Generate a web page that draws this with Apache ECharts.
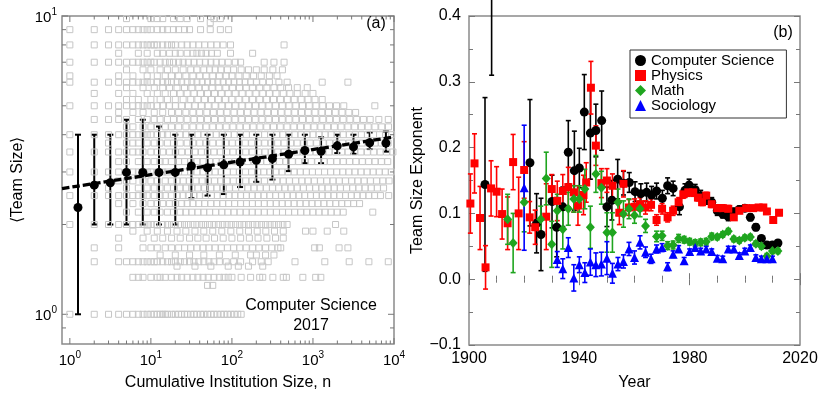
<!DOCTYPE html>
<html><head><meta charset="utf-8">
<script src="https://cdn.jsdelivr.net/npm/echarts@6/dist/echarts.min.js"></script>
<style>html,body{margin:0;padding:0;background:#fff}#c{width:821px;height:396px}</style>
</head><body><div id="c"></div>
<script>
// ---------- Panel (a) data ----------
// gray squares: [team size, [cumulative institution sizes...]]
const grayRows = [
 [9.8, [5,10,12,14,19,23,28,41,60,72]],
 [9.5, [54]],
 [9.0, [1,2,3,4,5,6,7,8,9,10,12,14,16,19,22,26,30,41,54,72,91]],
 [8.0, [1,2,3,4,5,6,7,8,9,10,11,12,14,16,18,20,24,28,33,39,46,55,65,78,96,440]],
 [7.5, [4,7,9,12,14,17,20,23,28,33,37,42,48,56,66,96,180]],
 [7.0, [1,2,3,4,5,6,7,8,9,10,11,13,15,17,19,22,25,29,34,40,47,55,64,75,90,110,128,250,330,440]],
 [6.6, [5,8,10,13,16,20,25,31,37,45,53,62,73,88,105,130,160,200,250,320,420]],
 [6.3, [1,4,6,9,12,15,18,22,27,33,40,48,58,70,85,100,122,150,185,230,290,360]],
 [6.0, [1,2,3,4,5,6,7,8,9,10,12,14,16,18,21,24,28,32,37,43,50,58,67,78,91,106,124,145,170,200,240,290,380,480,1300,2700]],
 [5.75, [5,8,11,14,17,21,26,32,39,47,57,69,84,102,124,150,180,220,270,330,400,500,640,850]],
 [5.5, [2,4,6,9,12,15,19,23,28,34,41,50,61,74,90,110,134,163,198,240,290,350,430,520,640,800,1000]],
 [5.25, [5,7,10,13,16,20,25,31,38,46,56,68,83,100,122,148,180,220,268,326,397,483,588,716,870,1060,1300]],
 [5.0, [1,2,3,4,5,6,7,8,9,10,12,14,17,20,24,29,35,42,51,62,75,91,110,133,161,195,236,286,346,419,507,614,743,900,1090,1320,1600,1950,2400,5800]],
 [4.75, [4,6,8,11,14,18,22,27,33,40,49,59,72,87,106,128,155,188,228,276,335,406,492,596,722,875,1060,1285,1557,1887,2287,2772,3360]],
 [4.5, [2,3,4,5,7,9,11,13,16,19,23,28,34,41,50,61,74,90,109,132,160,194,235,285,345,418,507,614,744,902,1093,1324,1605,1945,2357,2856,3461,4194,5082,6500,8500]],
 [4.25, [5,6,8,10,12,15,18,22,27,33,40,48,58,70,85,103,125,151,183,222,269,326,395,479,580,703,852,1032,1251,1516,1837,2226,2698,3270,3963,4803,5821,7055,8550]],
 [4.0, [1,2,3,4,5,6,7,8,9,10,12,14,16,19,23,27,32,38,45,54,64,76,90,107,127,151,179,213,253,300,357,424,503,598,710,843,1001,1189,1412,1677,1991,2365,2808,3335,3961,4704,5586,6634,7879,9357]],
 [3.75, [3,5,6,7,9,11,13,16,19,23,28,33,40,48,58,70,84,101,121,146,175,211,254,305,367,441,531,638,768,923,1110,1335,1605,1930,2321,2791,3356,4035,4852,5835,7016,8437]],
 [3.5, [1,2,3,4,5,6,7,8,10,12,14,17,20,24,29,35,42,50,60,72,86,103,124,148,178,213,256,307,368,441,529,635,761,913,1095,1313,1575,1889,2266,2718,3260,3910,4690,5626,6748,8094,9700]],
 [3.25, [4,5,7,9,11,13,15,18,22,26,31,37,44,53,64,76,91,109,131,157,188,225,270,323,387,464,556,666,798,956,1146,1373,1645,1971,2362,2830,3391,4063,4868,5833,6989,8374]],
 [3.0, [1,2,3,4,5,6,7,8,9,10,12,14,16,19,22,26,31,37,44,52,62,74,88,104,124,147,175,208,247,294,349,415,493,586,697,828,984,1170,1390,1652,1963,2333,2773,3295,3916,4654,5531,6573,7812,9284]],
 [2.8, [4,5,6,8,10,12,15,18,21,25,30,36,43,51,61,73,87,104,124,148,177,211,252,301,359,429,512,611,729,870,1039,1240,1480,1767,2109,2518,3006,3588,4283,5113,6103,7285,8697]],
 [2.65, [3,5,7,9,11,13,16,19,23,27,32,38,46,55,65,78,93,111,132,157,187,223,266,317,378,450,536,639,761,907,1081,1288,1535,1829,2180,2597,3095,3688,4395,5237,6240,7436]],
 [2.5, [1,2,3,4,5,6,7,8,9,11,13,15,18,21,25,29,34,40,47,56,66,78,92,109,128,151,178,210,248,293,346,408,481,568,670,791,933,1101,1299,1533,1809,2135,2519,2973,3508,4140,4885,5765,6803,8600]],
 [2.35, [4,6,8,10,12,14,17,20,24,28,33,39,46,55,65,77,91,108,128,151,179,212,251,297,352,417,494,585,693,821,972,1151,1363,1614,1911,2263,2680,3174,3759]],
 [2.2, [5,7,9,11,13,16,19,23,27,32,38,45,53,63,75,89,106,126,150,178,211,251,298,354,421,500,594,706,839,997,1185,1408,1673,1988,2362,5470]],
 [2.0, [1,2,3,4,5,6,7,8,9,10,11,12,14,16,18,20,23,26,29,33,37,42,47,53,60,68,77,87,98,111,125,141,160,181,204,231,261,295,333,376,425,480,1900]],
 [1.9, [6,9,12,16,21,27,35,45,58,75,97,125,160,205,262,335,430,810,1000,1500,2400]],
 [1.8, [4,8,11,14,18,23,30,38,48,61,78,100,128,164,210,270,345,430]],
 [1.67, [2,4,8,10,12,15,18,22,26,31,37,44,52,62,74,88,105,125,150,180,215,260,310,370,400,1050,1200,2100,2700]],
 [1.58, [13,20,30,45,70,110,170,200,260,330]],
 [1.5, [2,4,5,6,7,8,9,10,11,12,14,16,18,20,23,26,30,34,39,45,52,60,70,85,105,128,180,230,280,600,1400,2800,4900,8500]],
 [1.45, [21,35,55,90,120,160,240]],
 [1.33, [6,7,8,10,12,13,15,18,21,24,28,33,38,44,51,60,70,80,90,100,130,170,220,240,320,430,470,750,1080,1250]],
 [1.25, [50,58]],
 [1.0, [1,2,3,4,5,6,7,8,9,10,11,12,13,14,15,16,18,20,22,24,26,28,31,34,37,41,45,50,55,60,66,73,80,88,97,107,118,130]]
];
const binN    = [1.26,2,3.16,5,7.94,12.6,20,31.6,50,79.4,126,200,316,501,794,1259,1995,3162,5012,7943];
const binMean = [2.28,2.71,2.76,2.99,2.99,2.99,2.99,3.14,3.10,3.17,3.24,3.28,3.33,3.44,3.54,3.52,3.67,3.64,3.76,3.75];
const binLow  = [1.0,2.0,2.0,2.0,2.0,2.0,2.0,2.45,2.5,2.53,2.67,2.78,2.83,3.02,3.21,3.21,3.47,3.45,3.58,3.51];
const binHigh = [4.0,4.0,4.0,4.49,4.49,4.26,4.0,4.0,4.0,4.0,4.0,4.0,4.0,4.0,4.0,3.92,4.0,4.0,4.07,4.1];
const fitN = [0.8, 10000];
const fitY = [2.64, 3.93];
const leftXMajor = [1,10,100,1000,10000];
const leftXMinor = [2,3,4,5,6,7,8,9,20,30,40,50,60,70,80,90,200,300,400,500,600,700,800,900,2000,3000,4000,5000,6000,7000,8000,9000];
const leftYMajor = [1,10];
const leftYMinor = [0.9,2,3,4,5,6,7,8,9];

// ---------- Panel (b) data ----------
const csYears = [1905.8,1908.2,1922.1,1924.5,1926.1,1930.1,1931.8,1934,1936,1938.2,1940,1941.8,1944,1946,1948.1,1950,1951.8,1953.9,1956,1958.1,1960.2,1962.3,1964.4,1966.2,1968,1970.1,1972,1974,1976.3,1978.3,1979.8,1982,1984,1986,1988,1990,1992,1994,1996,1998,2000,2002,2004,2006,2008,2010,2012];
const csVals  = [0.144,0.46,0.177,0.085,0.068,0.118,0.079,0.110,0.193,0.165,0.169,0.254,0.222,0.226,0.241,0.110,0.120,0.152,0.146,0.147,0.133,0.130,0.132,0.128,0.134,0.123,0.142,0.138,0.110,0.135,0.143,0.136,0.127,0.121,0.117,0.104,0.099,0.095,0.102,0.106,0.108,0.094,0.079,0.062,0.052,0.052,0.055];
const csErrs  = [0.132,0.15,0.096,0.045,0.055,0.04,0.045,0.03,0.048,0.06,0.03,0.057,0.07,0.04,0.045,0.03,0.03,0.03,0.018,0.015,0.015,0.015,0.014,0.013,0.012,0.012,0.012,0.011,0.012,0.01,0.009,0.008,0.008,0.007,0.007,0.007,0.006,0.006,0.006,0.005,0.005,0.005,0.005,0.004,0.004,0.004,0.004];
const phYears = [1900.5,1902,1904,1906,1908,1910,1912,1914,1916,1918,1920,1922,1924,1928,1930,1932,1934,1936,1938,1939.5,1941.5,1942.5,1944.2,1946,1948,1950,1952,1954.5,1956,1958,1960,1962,1964,1966,1968,1970,1972,1974,1976,1977.7,1979.5,1981.3,1983,1984.5,1986,1988,1990,1992,1994,1996,1998,2000.5,2003,2005,2006.7,2008,2010.3,2012.4];
const phVals  = [0.115,0.176,0.093,0.018,0.138,0.133,0.099,0.085,0.178,0.100,0.166,0.094,0.079,0.095,0.137,0.119,0.134,0.140,0.132,0.112,0.128,0.147,0.291,0.203,0.146,0.150,0.142,0.101,0.145,0.109,0.110,0.114,0.109,0.113,0.090,0.107,0.094,0.104,0.117,0.129,0.132,0.132,0.124,0.117,0.127,0.114,0.108,0.108,0.107,0.094,0.104,0.108,0.108,0.109,0.109,0.103,0.090,0.101];
const phErrs  = [0.045,0.045,0.048,0.033,0.042,0.038,0.038,0.04,0.042,0.055,0.043,0.024,0.026,0.05,0.022,0.03,0.025,0.03,0.03,0.03,0.03,0.03,0.04,0.03,0.022,0.018,0.018,0.018,0.02,0.012,0.012,0.01,0.01,0.009,0.008,0.008,0.007,0.007,0.007,0.006,0.006,0.006,0.005,0.005,0.005,0.005,0.005,0.005,0.005,0.004,0.004,0.004,0.004,0.004,0.004,0.004,0.004,0.004];
const maYears = [1914,1916,1920,1926,1928,1930,1932,1934,1936,1938,1940,1942,1944,1946,1948,1950,1952,1954,1956,1958,1960,1962,1964,1968,1970,1972,1974,1976,1978,1980,1982,1984,1986,1988,1990,1992,1994,1996,1998,2000,2002,2004,2006,2008,2010,2012];
const maVals  = [0.091,0.055,0.117,0.091,0.153,0.053,0.104,0.076,0.107,0.122,0.122,0.137,0.079,0.160,0.139,0.071,0.071,0.117,0.099,0.107,0.097,0.107,0.081,0.065,0.066,0.051,0.052,0.062,0.060,0.057,0.055,0.056,0.057,0.065,0.064,0.068,0.073,0.061,0.059,0.063,0.064,0.054,0.050,0.035,0.043,0.043];
const maErrs  = [0.038,0.045,0.045,0.02,0.04,0.035,0.025,0.03,0.025,0.02,0.02,0.03,0.032,0.028,0.025,0.03,0.03,0.02,0.02,0.015,0.012,0.012,0.01,0.008,0.007,0.006,0.006,0.006,0.005,0.005,0.005,0.005,0.005,0.005,0.004,0.004,0.004,0.004,0.004,0.004,0.004,0.004,0.004,0.004,0.004,0.004];
const soYears = [1920,1932,1934,1936,1938,1940,1942,1944,1946,1948,1950,1952,1954,1956,1958,1960,1962,1964,1966,1968,1970,1972,1974,1976,1978,1980,1982,1984,1986,1988,1990,1992,1994,1996,1998,2000,2002,2004,2006,2008,2010];
const soVals  = [0.139,0.030,0.016,0.048,0.002,0.022,0.010,0.026,0.022,0.023,0.032,0.009,0.023,0.027,0.046,0.033,0.056,0.041,0.031,0.046,0.048,0.019,0.038,0.046,0.028,0.042,0.048,0.043,0.046,0.042,0.032,0.031,0.046,0.046,0.036,0.043,0.048,0.033,0.031,0.031,0.031];
const soErrs  = [0.095,0.012,0.015,0.015,0.02,0.012,0.015,0.02,0.018,0.018,0.025,0.015,0.01,0.01,0.01,0.01,0.01,0.008,0.007,0.006,0.006,0.006,0.005,0.005,0.005,0.004,0.004,0.004,0.004,0.004,0.004,0.004,0.004,0.004,0.004,0.004,0.004,0.004,0.004,0.004,0.004];

const FONT = 'Liberation Sans, Arial, sans-serif';
const FRAME = '#8a8a8a';
const TICK = '#777';

const grayData = [];
grayRows.forEach(r => r[1].forEach(n => grayData.push([n, r[0]])));

function errBar(color, cap, lw) {
  return function (params, api) {
    const x = api.value(0);
    const p1 = api.coord([x, api.value(1)]);
    const p2 = api.coord([x, api.value(2)]);
    const st = {stroke: color, lineWidth: lw};
    return {type: 'group', children: [
      {type: 'line', shape: {x1: p1[0], y1: p1[1], x2: p2[0], y2: p2[1]}, style: st},
      {type: 'line', shape: {x1: p1[0] - cap / 2, y1: p1[1], x2: p1[0] + cap / 2, y2: p1[1]}, style: st},
      {type: 'line', shape: {x1: p2[0] - cap / 2, y1: p2[1], x2: p2[0] + cap / 2, y2: p2[1]}, style: st}
    ]};
  };
}
function xTicks(len) {
  return function (params, api) {
    const cs = params.coordSys;
    const p = api.coord([api.value(0), api.value(1)]);
    const b = cs.y + cs.height, t = cs.y;
    const st = {stroke: TICK, lineWidth: 1};
    return {type: 'group', children: [
      {type: 'line', shape: {x1: p[0], y1: b, x2: p[0], y2: b - len}, style: st},
      {type: 'line', shape: {x1: p[0], y1: t, x2: p[0], y2: t + len}, style: st}
    ]};
  };
}
function yTicks(len) {
  return function (params, api) {
    const cs = params.coordSys;
    const p = api.coord([api.value(0), api.value(1)]);
    const l = cs.x, r = cs.x + cs.width;
    const st = {stroke: TICK, lineWidth: 1};
    return {type: 'group', children: [
      {type: 'line', shape: {x1: l, y1: p[1], x2: l + len, y2: p[1]}, style: st},
      {type: 'line', shape: {x1: r, y1: p[1], x2: r - len, y2: p[1]}, style: st}
    ]};
  };
}
function logFmt(v) {
  const l = Math.log10(v), e = Math.round(l);
  if (Math.abs(l - e) > 1e-6) return '';
  return '{b|10}{s|' + e + '}';
}
const logRich = {
  b: {fontSize: 15, fontFamily: FONT, color: '#000', lineHeight: 18, verticalAlign: 'bottom'},
  s: {fontSize: 10, fontFamily: FONT, color: '#000', lineHeight: 18, verticalAlign: 'top', padding: [0, 0, 6, 0]}
};
const nameStyle = {fontSize: 16, fontFamily: FONT, color: '#000'};

function ebData(ys, vs, es) { return ys.map((y, i) => [y, vs[i] - es[i], vs[i] + es[i]]); }
function ptData(ys, vs) { return ys.map((y, i) => [y, vs[i]]); }

const option = {
  animation: false,
  backgroundColor: '#fff',
  textStyle: {fontFamily: FONT},
  grid: [
    {left: 62, top: 16, width: 332, height: 331, show: true, borderColor: FRAME, borderWidth: 1.5, backgroundColor: 'transparent'},
    {left: 469, top: 16, width: 331, height: 331, show: true, borderColor: FRAME, borderWidth: 1.5, backgroundColor: 'transparent'}
  ],
  xAxis: [
    {gridIndex: 0, type: 'log', logBase: 10, min: 0.8, max: 10000,
     axisLine: {show: false}, axisTick: {show: false}, splitLine: {show: false}, minorTick: {show: false},
     axisLabel: {formatter: logFmt, rich: logRich, margin: 6, hideOverlap: false},
     name: 'Cumulative Institution Size, n', nameLocation: 'middle', nameGap: 31, nameTextStyle: nameStyle},
    {gridIndex: 1, type: 'value', min: 1900, max: 2020, interval: 40, position: 'bottom',
     axisLine: {show: false}, splitLine: {show: false},
     axisTick: {inside: true, length: 6, lineStyle: {color: TICK}},
     minorTick: {show: true, splitNumber: 4, length: 3.5, lineStyle: {color: TICK}},
     axisLabel: {fontSize: 16, fontFamily: FONT, color: '#000', margin: 6, formatter: v => String(Math.round(v))},
     name: 'Year', nameLocation: 'middle', nameGap: 30, nameTextStyle: nameStyle},
    {gridIndex: 1, type: 'value', min: 1900, max: 2020, interval: 40, position: 'top',
     axisLine: {show: false}, splitLine: {show: false}, axisLabel: {show: false},
     axisTick: {inside: true, length: 6, lineStyle: {color: TICK}},
     minorTick: {show: true, splitNumber: 4, length: 3.5, lineStyle: {color: TICK}}}
  ],
  yAxis: [
    {gridIndex: 0, type: 'log', logBase: 10, min: 0.795, max: 10,
     axisLine: {show: false}, axisTick: {show: false}, splitLine: {show: false}, minorTick: {show: false},
     axisLabel: {formatter: logFmt, rich: logRich, margin: 5, hideOverlap: false},
     name: '⟨Team Size⟩', nameLocation: 'middle', nameGap: 36, nameTextStyle: nameStyle},
    {gridIndex: 1, type: 'value', min: -0.1, max: 0.4, interval: 0.1, position: 'left',
     axisLine: {show: false}, splitLine: {show: false},
     axisTick: {inside: true, length: 6, lineStyle: {color: TICK}},
     minorTick: {show: true, splitNumber: 2, length: 4, lineStyle: {color: TICK}},
     axisLabel: {fontSize: 16, fontFamily: FONT, color: '#000', margin: 8,
       formatter: v => (Math.abs(v) < 1e-9 ? '0.0' : v.toFixed(1)).replace('-', '\u2212')},
     name: 'Team Size Exponent', nameLocation: 'middle', nameGap: 39, nameTextStyle: nameStyle},
    {gridIndex: 1, type: 'value', min: -0.1, max: 0.4, interval: 0.1, position: 'right',
     axisLine: {show: false}, splitLine: {show: false}, axisLabel: {show: false},
     axisTick: {inside: true, length: 6, lineStyle: {color: TICK}},
     minorTick: {show: true, splitNumber: 2, length: 4, lineStyle: {color: TICK}}}
  ],
  legend: {
    data: ['Computer Science', 'Physics', 'Math', 'Sociology'],
    orient: 'vertical', left: 630, top: 50, itemWidth: 11, itemHeight: 11, itemGap: 0,
    padding: [3, 12, 5, 5], borderColor: '#333', borderWidth: 1, backgroundColor: '#fff',
    textStyle: {fontSize: 15, fontFamily: FONT, color: '#000'}, selectedMode: false
  },
  graphic: [
    {type: 'text', x: 376, y: 24, style: {text: '(a)', fontSize: 16, fontFamily: FONT, fill: '#000', align: 'center', verticalAlign: 'middle'}},
    {type: 'text', x: 783, y: 33, style: {text: '(b)', fontSize: 16, fontFamily: FONT, fill: '#000', align: 'center', verticalAlign: 'middle'}},
    {type: 'text', x: 311, y: 306, style: {text: 'Computer Science', fontSize: 16, fontFamily: FONT, fill: '#000', align: 'center', verticalAlign: 'middle'}},
    {type: 'text', x: 311, y: 326, style: {text: '2017', fontSize: 16, fontFamily: FONT, fill: '#000', align: 'center', verticalAlign: 'middle'}}
  ],
  series: [
    // ---- panel (a)
    {type: 'custom', name: 'xmaj', xAxisIndex: 0, yAxisIndex: 0, silent: true, renderItem: xTicks(6), data: leftXMajor.map(v => [v, 1])},
    {type: 'custom', name: 'xmin', xAxisIndex: 0, yAxisIndex: 0, silent: true, renderItem: xTicks(3.5), data: leftXMinor.map(v => [v, 1])},
    {type: 'custom', name: 'ymaj', xAxisIndex: 0, yAxisIndex: 0, silent: true, renderItem: yTicks(6), data: leftYMajor.map(v => [1, v])},
    {type: 'custom', name: 'ymin', xAxisIndex: 0, yAxisIndex: 0, silent: true, renderItem: yTicks(4), data: leftYMinor.map(v => [1, v])},
    {type: 'scatter', name: 'institutions', xAxisIndex: 0, yAxisIndex: 0, symbol: 'rect', symbolSize: 6, silent: true,
     itemStyle: {color: 'rgba(0,0,0,0)', borderColor: '#c6c6c6', borderWidth: 1, opacity: 1}, data: grayData},
    {type: 'custom', name: 'binErr', xAxisIndex: 0, yAxisIndex: 0, silent: true, renderItem: errBar('#000', 6, 2),
     encode: {x: 0, y: [1, 2]}, data: binN.map((n, i) => [n, binLow[i], binHigh[i]])},
    {type: 'line', name: 'fit', xAxisIndex: 0, yAxisIndex: 0, showSymbol: false, silent: true,
     lineStyle: {color: '#000', width: 3.3, type: [7.5, 3]}, data: fitN.map((n, i) => [n, fitY[i]])},
    {type: 'scatter', name: 'bins', xAxisIndex: 0, yAxisIndex: 0, symbol: 'circle', symbolSize: 9, silent: true,
     itemStyle: {color: '#000', opacity: 1}, data: binN.map((n, i) => [n, binMean[i]])},
    // ---- panel (b)
    {type: 'custom', name: 'csErr', xAxisIndex: 1, yAxisIndex: 1, silent: true, renderItem: errBar('#000', 5, 1.6), encode: {x: 0, y: [1, 2]}, data: ebData(csYears, csVals, csErrs)},
    {type: 'scatter', name: 'Computer Science', xAxisIndex: 1, yAxisIndex: 1, symbol: 'circle', symbolSize: 9, itemStyle: {color: '#000', opacity: 1}, data: ptData(csYears, csVals)},
    {type: 'custom', name: 'phErr', xAxisIndex: 1, yAxisIndex: 1, silent: true, renderItem: errBar('#ff0000', 5, 1.6), encode: {x: 0, y: [1, 2]}, data: ebData(phYears, phVals, phErrs)},
    {type: 'scatter', name: 'Physics', xAxisIndex: 1, yAxisIndex: 1, symbol: 'rect', symbolSize: 8, itemStyle: {color: '#ff0000', opacity: 1}, data: ptData(phYears, phVals)},
    {type: 'custom', name: 'maErr', xAxisIndex: 1, yAxisIndex: 1, silent: true, renderItem: errBar('#1fa51f', 5, 1.6), encode: {x: 0, y: [1, 2]}, data: ebData(maYears, maVals, maErrs)},
    {type: 'scatter', name: 'Math', xAxisIndex: 1, yAxisIndex: 1, symbol: 'diamond', symbolSize: [9, 10], itemStyle: {color: '#1fa51f', opacity: 1}, data: ptData(maYears, maVals)},
    {type: 'custom', name: 'soErr', xAxisIndex: 1, yAxisIndex: 1, silent: true, renderItem: errBar('#0000ff', 5, 1.6), encode: {x: 0, y: [1, 2]}, data: ebData(soYears, soVals, soErrs)},
    {type: 'scatter', name: 'Sociology', xAxisIndex: 1, yAxisIndex: 1, symbol: 'triangle', symbolSize: 9, itemStyle: {color: '#0000ff', opacity: 1}, data: ptData(soYears, soVals)}
  ]
};
const chart = echarts.init(document.getElementById('c'), null, {renderer: 'canvas'});
chart.setOption(option);
</script></body></html>
